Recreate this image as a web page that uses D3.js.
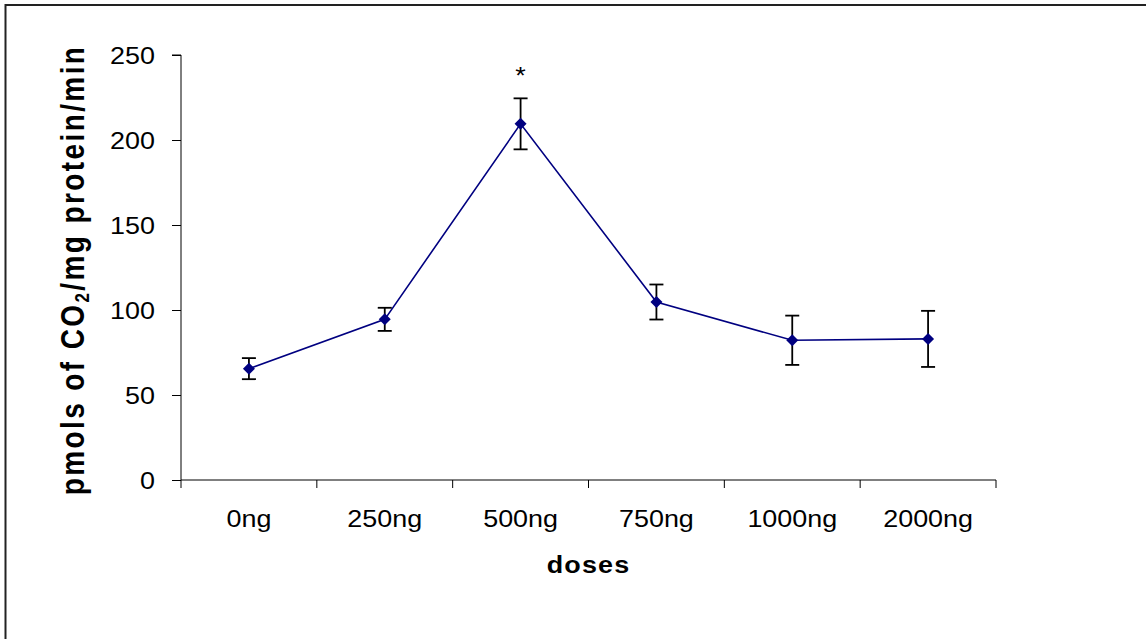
<!DOCTYPE html>
<html><head><meta charset="utf-8">
<script src="https://cdn.jsdelivr.net/npm/d3@7/dist/d3.min.js"></script>
<style>body{margin:0;background:#fff}svg{display:block}</style>
</head><body>
<svg id="c" width="1146" height="639"></svg>
<script>
const categories = ["0ng","250ng","500ng","750ng","1000ng","2000ng"];
const values = [65.5, 94.5, 209.5, 104.7, 82.2, 83.0];
const errors = [6.2, 6.8, 15.0, 10.3, 14.5, 16.5];
const yTicks = [0,50,100,150,200,250];
const significant = [false,false,true,false,false,false];

(function(){
const svg = d3.select("#c");
const font = "'Liberation Sans', Arial, sans-serif";
const SX = 1.17; // horizontal stretch of the original bitmap
// outer frame
svg.append("path").attr("d","M5.5,640 V5 H1147").attr("fill","none").attr("stroke","#222").attr("stroke-width",2);

const pL=181, pR=996, pT=55, pB=480;
const x = d3.scaleBand().domain(categories).range([pL,pR]);
const y = d3.scaleLinear().domain([0,250]).range([pB,pT]);

// y axis
const ya = svg.append("g").attr("transform",`translate(${pL},0)`)
  .call(d3.axisLeft(y).tickValues(yTicks).tickSize(9).tickPadding(9));
ya.select(".domain").attr("d",`M-9,${pT}H0V${pB}`);
ya.selectAll(".tick text").attr("x",0).attr("dy","0.35em")
  .attr("transform",`translate(-26,0) scale(${SX},1)`)
  .attr("font-family",font).attr("font-size",23).attr("fill","#000");
ya.selectAll("line,path").attr("stroke","#000").attr("stroke-width",1);

// x axis
const xa = svg.append("g").attr("transform",`translate(0,${pB})`)
  .call(d3.axisBottom(x).tickSize(0).tickPadding(0));
xa.select(".domain").attr("d",`M${pL},0H${pR}`).attr("stroke","#000");
xa.selectAll(".tick text").attr("y",0).attr("dy",0)
  .attr("transform",`translate(0,47) scale(${SX},1)`)
  .attr("font-family",font).attr("font-size",23).attr("fill","#000");
const boundaries = categories.map(c=>x(c)).concat([pR]);
xa.selectAll(".bnd").data(boundaries).enter().append("line")
  .attr("x1",d=>d).attr("x2",d=>d).attr("y1",0).attr("y2",8).attr("stroke","#000");

// line
const cx = c => x(c)+x.bandwidth()/2;
const line = d3.line().x((d,i)=>cx(categories[i])).y(d=>y(d));
svg.append("path").datum(values).attr("d",line).attr("fill","none").attr("stroke","#000080").attr("stroke-width",1.6);

// error bars
const eb = svg.append("g").attr("stroke","#000").attr("stroke-width",1.8);
values.forEach((v,i)=>{
  const X=cx(categories[i]);
  eb.append("line").attr("x1",X).attr("x2",X).attr("y1",y(v+errors[i])).attr("y2",y(v-errors[i]));
  eb.append("line").attr("x1",X-7).attr("x2",X+7).attr("y1",y(v+errors[i])).attr("y2",y(v+errors[i]));
  eb.append("line").attr("x1",X-7).attr("x2",X+7).attr("y1",y(v-errors[i])).attr("y2",y(v-errors[i]));
});

// markers
svg.append("g").selectAll("path").data(values).enter().append("path")
  .attr("transform",(d,i)=>`translate(${cx(categories[i])},${y(d)})`)
  .attr("d","M0,-6L6,0L0,6L-6,0Z").attr("fill","#000080");

// significance
svg.append("g").selectAll("text").data(values.map((v,i)=>({v,i})).filter(d=>significant[d.i])).enter()
  .append("text")
  .attr("transform",d=>`translate(${cx(categories[d.i])},${y(d.v+errors[d.i])-14}) scale(${SX},1)`)
  .attr("text-anchor","middle").attr("font-family",font).attr("font-size",23).text("*");

// axis titles
svg.append("text").attr("transform",`translate(${(pL+pR)/2},573) scale(${SX},1)`).attr("text-anchor","middle")
  .attr("font-family",font).attr("font-size",23).attr("font-weight","bold").style("letter-spacing","1px").text("doses");
const yt = svg.append("text").attr("transform",`translate(84,270) scale(${SX},1) rotate(-90)`).attr("text-anchor","middle")
  .attr("font-family",font).attr("font-size",28).attr("font-weight","bold").style("letter-spacing","2.4px");
yt.append("tspan").text("pmols of CO");
yt.append("tspan").attr("font-size",17).attr("dy",4).text("2");
yt.append("tspan").attr("dy",-4).text("/mg protein/min");
})();
</script>
</body></html>
